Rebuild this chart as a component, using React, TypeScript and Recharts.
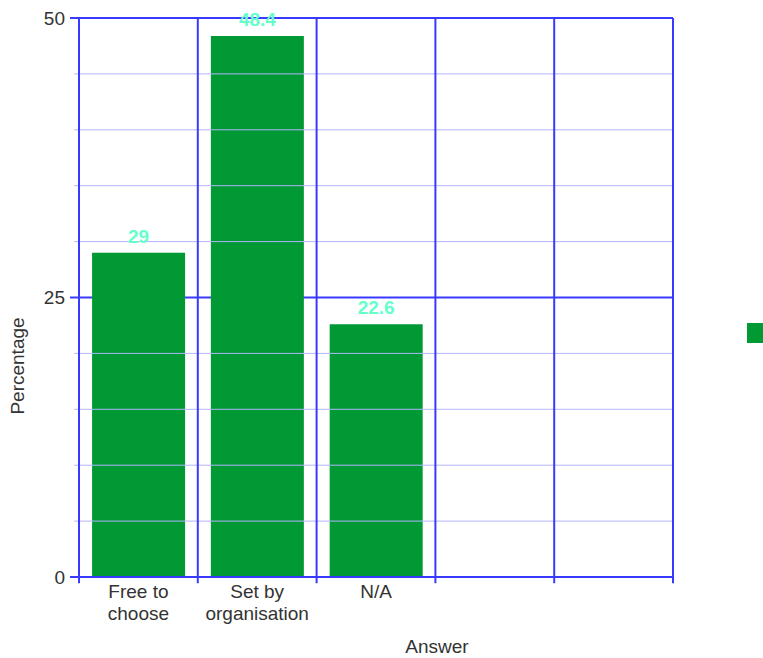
import { BarChart, Bar, XAxis, YAxis, CartesianGrid, ReferenceLine, LabelList, Legend } from 'recharts';

const answers = ['Free to\nchoose', 'Set by\norganisation', 'N/A', '', ''];
const percentages = [29, 48.4, 22.6, null, null];
const yTicks = [0, 25, 50];
const minorTicks = [5, 10, 15, 20, 30, 35, 40, 45];
const slotEdges = [0, 1, 2, 3, 4, 5];

const data = answers.map((answer, i) => ({ answer, value: percentages[i], slot: i + 0.5 }));

const BLUE = '#3a3aff';
const MINOR = '#b4b4ff';
const GREEN = '#009933';
const FONT = 'Liberation Sans, Arial, sans-serif';

function AnswerTick({ x, y, payload }: any) {
  const lines = String(payload.value).split('\n');
  return (
    <text x={x} y={y} textAnchor="middle" fill="#333" fontSize={19} fontFamily={FONT}>
      {lines.map((l, i) => (
        <tspan key={i} x={x} dy={i === 0 ? 13 : 22}>
          {l}
        </tspan>
      ))}
    </text>
  );
}

export default function App() {
  return (
    <div style={{ position: 'absolute', left: 0, top: 0, width: 763, height: 658, background: '#fff', fontFamily: FONT }}>
      <BarChart width={763} height={658} data={data} margin={{ top: 18, right: 90, bottom: 21, left: 0 }} barCategoryGap="11%">
        <CartesianGrid xAxisId="grid" vertical={false} stroke={BLUE} strokeWidth={2} strokeDasharray="" />
        <XAxis
          xAxisId="cat"
          dataKey="answer"
          height={60}
          axisLine={{ stroke: BLUE, strokeWidth: 2 }}
          tickLine={false}
          tick={<AnswerTick />}
          interval={0}
        />
        <XAxis xAxisId="grid" type="number" dataKey="slot" domain={[0, 5]} allowDataOverflow ticks={slotEdges} hide />
        <YAxis
          domain={[0, 50]}
          ticks={yTicks}
          width={79}
          tickSize={9}
          tickMargin={5}
          axisLine={false}
          tickLine={{ stroke: BLUE, strokeWidth: 2 }}
          tick={{ fill: '#333', fontSize: 19, fontFamily: FONT }}
        />
        {minorTicks.map((v) => (
          <ReferenceLine
            key={'m' + v}
            xAxisId="grid"
            segment={[{ x: -0.04, y: v }, { x: 5, y: v }]}
            stroke={MINOR}
            strokeWidth={1}
            ifOverflow="visible"
          />
        ))}
        {slotEdges.map((v) => (
          <ReferenceLine
            key={'v' + v}
            xAxisId="grid"
            segment={[{ x: v, y: -0.55 }, { x: v, y: 50 }]}
            stroke={BLUE}
            strokeWidth={2}
            ifOverflow="visible"
          />
        ))}
        <Legend
          layout="horizontal"
          verticalAlign="middle"
          align="center"
          wrapperStyle={{ position: 'absolute', left: 747, top: 323, width: 20, height: 20 }}
          content={() => <div style={{ width: 20, height: 20, background: GREEN }} />}
        />
        <Bar xAxisId="cat" dataKey="value" fill={GREEN} isAnimationActive={false}>
          <LabelList dataKey="value" position="top" offset={10} fill="#66ffcc" fontSize={19} fontWeight="bold" fontFamily={FONT} />
        </Bar>
      </BarChart>
      <div style={{ position: 'absolute', left: 18, top: 366, transform: 'translate(-50%, -50%) rotate(-90deg)', fontSize: 19, lineHeight: '20px', color: '#333', whiteSpace: 'nowrap' }}>
        Percentage
      </div>
      <div style={{ position: 'absolute', left: 437, top: 647, transform: 'translate(-50%, -50%)', fontSize: 19, lineHeight: '18px', color: '#333', whiteSpace: 'nowrap' }}>
        Answer
      </div>
    </div>
  );
}
